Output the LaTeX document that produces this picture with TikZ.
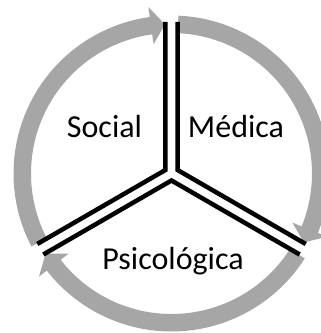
\documentclass[tikz,border=0pt]{standalone}
\usepackage{fontspec}
\setmainfont{Carlito}
\usetikzlibrary{calc}
\definecolor{ringgray}{RGB}{166,166,166}
\newcommand{\cyclearrow}[2]{%
  \pgfmathsetmacro{\cyarrbase}{#2+5.4}%
  \fill[ringgray] (#1:158) arc[start angle=#1, end angle=\cyarrbase, radius=158]
    -- (\cyarrbase:168) -- (#2:149.25) -- (\cyarrbase:130.5) -- (\cyarrbase:140.5)
    arc[start angle=\cyarrbase, end angle=#1, radius=140.5] -- cycle;}
\begin{document}
\begin{tikzpicture}[x=1pt,y=1pt,
  edge/.style={line width=4.5pt, line join=miter, black},
  label/.style={anchor=base, inner sep=0pt, font=\fontsize{32}{38}\selectfont}]
\useasboundingbox (0,0) rectangle (321,333);
\clip (0,0) rectangle (321,333);
\coordinate (C) at (171.5,159.5);
% gray cycle arrows
\begin{scope}[shift={(C)}]
  \cyclearrow{207.5}{92.5}
  \cyclearrow{87.5}{-27.5}
  \cyclearrow{327.5}{212.5}
\end{scope}
% sector corners
\coordinate (S) at ($(C)+(150:7)$);
\coordinate (M) at ($(C)+(30:7)$);
\coordinate (P) at ($(C)+(270:7)$);
\coordinate (St) at ($(S)+(90:148)$);
\coordinate (Sb) at ($(S)+(210:148)$);
\coordinate (Mt) at ($(M)+(90:148)$);
\coordinate (Mb) at ($(M)+(-30:148)$);
\coordinate (Pl) at ($(P)+(210:148)$);
\coordinate (Pr) at ($(P)+(-30:148)$);
\draw[edge] (St) -- (S) -- (Sb);
\draw[edge] (Mt) -- (M) -- (Mb);
\draw[edge] (Pl) -- (P) -- (Pr);
% labels
\node[label] (social) at (104.5,195.5) {Social};
\node[label] (medica) at (236,195.5) {Médica};
\node[label] (psico) at (173,63.7) {Psicológica};
\end{tikzpicture}
\end{document}
